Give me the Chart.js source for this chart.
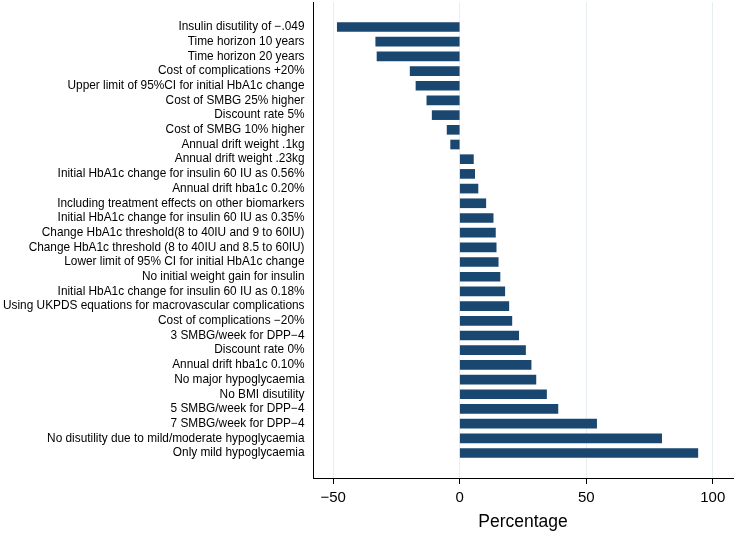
<!DOCTYPE html>
<html lang="en">
<head>
    <meta charset="UTF-8">
    <title>Sensitivity analysis</title>
    <script src="https://cdn.jsdelivr.net/npm/chart.js"></script>
    <style>
        html, body { margin: 0; padding: 0; background: #ffffff; }
        #wrap { width: 734px; height: 533px; }
    </style>
</head>
<body>
    <div id="wrap">
        <canvas id="sensChart" width="734" height="533"></canvas>
    </div>

    <script>
        // scenarios, top to bottom
        const categories = [
            'Insulin disutility of \u2212.049',
            'Time horizon 10 years',
            'Time horizon 20 years',
            'Cost of complications +20%',
            'Upper limit of 95%CI for initial HbA1c change',
            'Cost of SMBG 25% higher',
            'Discount rate 5%',
            'Cost of SMBG 10% higher',
            'Annual drift weight .1kg',
            'Annual drift weight .23kg',
            'Initial HbA1c change for insulin 60 IU as 0.56%',
            'Annual drift hba1c 0.20%',
            'Including treatment effects on other biomarkers',
            'Initial HbA1c change for insulin 60 IU as 0.35%',
            'Change HbA1c threshold(8 to 40IU and 9 to 60IU)',
            'Change HbA1c threshold (8 to 40IU and 8.5 to 60IU)',
            'Lower limit of 95% CI for initial HbA1c change',
            'No initial weight gain for insulin',
            'Initial HbA1c change for insulin 60 IU as 0.18%',
            'Using UKPDS equations for macrovascular complications',
            'Cost of complications \u221220%',
            '3 SMBG/week for DPP\u22124',
            'Discount rate 0%',
            'Annual drift hba1c 0.10%',
            'No major hypoglycaemia',
            'No BMI disutility',
            '5 SMBG/week for DPP\u22124',
            '7 SMBG/week for DPP\u22124',
            'No disutility due to mild/moderate hypoglycaemia',
            'Only mild hypoglycaemia'
        ];

        // percentage change
        const percentages = [
            -48.4, -33.2, -32.7, -19.6, -17.3, -13.0, -10.9, -5.0, -3.6, 5.4,
            5.9, 7.2, 10.3, 13.2, 14.1, 14.4, 15.2, 15.9, 17.8, 19.4,
            20.6, 23.3, 26.0, 28.2, 30.1, 34.3, 38.8, 54.1, 79.8, 94.1
        ];

        const xTicks = [-50, 0, 50, 100];

        const points = percentages.map((v, i) => ({ x: v, y: i + 1 }));

        new Chart(document.getElementById('sensChart'), {
            type: 'bar',
            data: {
                datasets: [{
                    data: points,
                    backgroundColor: '#1a476f',
                    borderWidth: 0,
                    barThickness: 9
                }]
            },
            options: {
                indexAxis: 'y',
                responsive: false,
                animation: false,
                layout: { padding: { top: 2, right: 1, left: 0, bottom: 0 } },
                plugins: {
                    legend: { display: false },
                    tooltip: { enabled: false }
                },
                scales: {
                    x: {
                        type: 'linear',
                        min: -58,
                        max: 108,
                        afterBuildTicks: s => { s.ticks = xTicks.map(v => ({ value: v })); },
                        afterFit: s => { s.height = 55; s.paddingLeft = 0; s.paddingRight = 0; },
                        grid: {
                            color: '#e7eff3',
                            tickColor: '#000',
                            tickLength: 6,
                            lineWidth: 1
                        },
                        border: { display: true, color: '#000', width: 1 },
                        ticks: {
                            color: '#000',
                            padding: 5,
                            font: { family: 'Liberation Sans, Arial, sans-serif', size: 15 },
                            callback: v => String(v).replace('-', '\u2212')
                        },
                        title: {
                            display: true,
                            text: 'Percentage',
                            color: '#000',
                            padding: { top: 2, bottom: 0 },
                            font: { family: 'Liberation Sans, Arial, sans-serif', size: 17.5 }
                        }
                    },
                    y: {
                        type: 'linear',
                        reverse: true,
                        offset: false,
                        min: -0.7,
                        max: 31.7,
                        afterBuildTicks: s => { s.ticks = categories.map((c, i) => ({ value: i + 1 })); },
                        afterFit: s => { s.width = 313; s.paddingTop = 0; s.paddingBottom = 0; },
                        grid: { display: false, drawTicks: false, offset: false },
                        border: { display: true, color: '#000', width: 1 },
                        ticks: {
                            autoSkip: false,
                            color: '#000',
                            padding: 8.5,
                            font: { family: 'Liberation Sans, Arial, sans-serif', size: 11.85 },
                            callback: v => categories[v - 1]
                        }
                    }
                }
            }
        });
    </script>
</body>
</html>
